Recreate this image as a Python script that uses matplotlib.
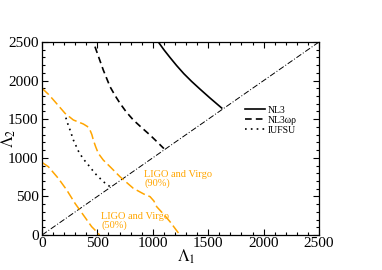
import matplotlib
matplotlib.use("Agg")
import matplotlib.pyplot as plt

plt.rcParams['font.family'] = ['Liberation Serif', 'DejaVu Serif']
plt.rcParams['mathtext.fontset'] = 'stix'

# NL3 (solid)
nl3_x = [1050, 1100, 1155, 1215, 1280, 1350, 1426, 1516, 1622]
nl3_y = [2500, 2400, 2300, 2195, 2090, 1990, 1890, 1775, 1645]
# NL3wr (dashed)
nl3wr_x = [478, 520, 553, 614, 660, 704, 760, 824, 900, 975, 1040, 1100]
nl3wr_y = [2440, 2270, 2137, 1921, 1805, 1706, 1595, 1490, 1390, 1295, 1205, 1120]
# IUFSU (dotted)
iufsu_x = [215, 235, 253, 283, 328, 370, 418, 478, 553, 614]
iufsu_y = [1520, 1430, 1360, 1231, 1088, 990, 907, 799, 691, 626]
# LIGO and Virgo 90%
ligo90_x = [0, 60, 117, 208, 283, 373, 410, 433, 450, 463, 485, 508, 553, 614, 704, 824, 920, 975, 1010, 1035, 1100, 1155, 1245]
ligo90_y = [1900, 1820, 1727, 1576, 1490, 1438, 1405, 1360, 1300, 1231, 1140, 1058, 971, 885, 755, 605, 530, 497, 440, 367, 265, 173, 0]
# LIGO and Virgo 50%
ligo50_x = [0, 57, 147, 223, 298, 373, 448, 478, 520]
ligo50_y = [940, 885, 734, 583, 410, 259, 108, 65, 0]
# diagonal
diag = [0, 2500]

ticks = [0, 500, 1000, 1500, 2000, 2500]

fig = plt.figure(figsize=(3.82, 2.70), dpi=100)
ax = fig.add_axes([0.110, 0.1296, 0.725, 0.7148])

orange = '#FFA500'
ax.plot(diag, diag, color='black', lw=0.7, linestyle=(0, (6, 2, 1, 2)))
ax.plot(ligo90_x, ligo90_y, color=orange, lw=1.1, linestyle=(0, (6, 2.5)))
ax.plot(ligo50_x, ligo50_y, color=orange, lw=1.1, linestyle=(0, (6, 2.5)))
ax.plot(nl3_x, nl3_y, color='black', lw=1.2, linestyle='-', label='NL3')
ax.plot(nl3wr_x, nl3wr_y, color='black', lw=1.2, linestyle=(0, (4, 2.5)), label='NL3ωρ')
ax.plot(iufsu_x, iufsu_y, color='black', lw=1.2, linestyle=(0, (1, 2.5)), label='IUFSU')

ax.set_xlim(0, 2500)
ax.set_ylim(0, 2500)
ax.set_xticks(ticks)
ax.set_yticks(ticks)
ax.set_xticks(range(0, 2501, 100), minor=True)
ax.set_yticks(range(0, 2501, 100), minor=True)
ax.tick_params(which='both', direction='in', top=True, right=True, labelsize=11, width=0.8)
ax.tick_params(axis='x', pad=1.5)
ax.tick_params(axis='y', pad=2.5)
ax.tick_params(which='major', length=4.5)
ax.tick_params(which='minor', length=2)
for s in ax.spines.values():
    s.set_linewidth(0.9)

ax.set_xlabel(r'$\Lambda_1$', fontsize=12)
ax.set_ylabel(r'$\Lambda_2$', fontsize=12)
ax.xaxis.set_label_coords(0.52, -0.065)
ax.yaxis.set_label_coords(-0.085, 0.5)

ax.text(925, 840, 'LIGO and Virgo\n(90%)', color=orange, fontsize=7.5, va='top', ha='left', linespacing=0.95)
ax.text(535, 300, 'LIGO and Virgo\n(50%)', color=orange, fontsize=7.5, va='top', ha='left', linespacing=0.95)

leg = ax.legend(loc='upper left', bbox_to_anchor=(0.72, 0.69), frameon=False, fontsize=7,
                handlelength=2.0, handletextpad=0.3, labelspacing=0.1, borderaxespad=0)

fig.savefig('out.png', dpi=100)
